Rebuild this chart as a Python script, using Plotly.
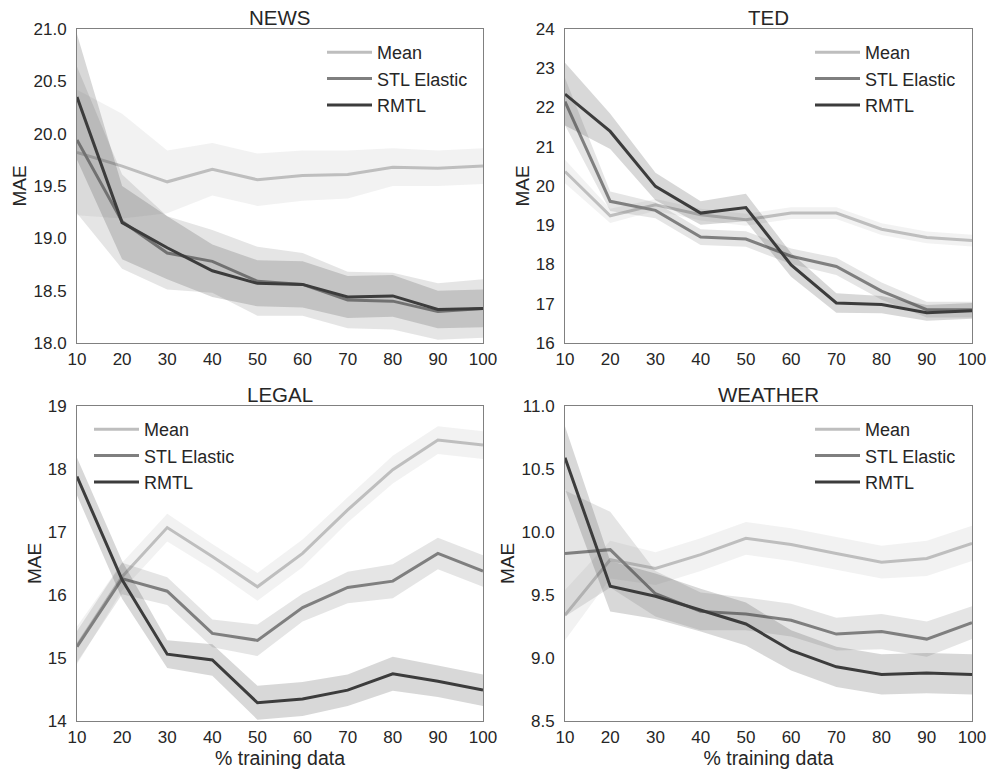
import plotly.graph_objects as go

x_pct = [10, 20, 30, 40, 50, 60, 70, 80, 90, 100]
series_names = ["Mean", "STL Elastic", "RMTL"]
panel_titles = ["NEWS", "TED", "LEGAL", "WEATHER"]

# NEWS
news_mean = [19.82, 19.69, 19.54, 19.66, 19.56, 19.60, 19.61, 19.68, 19.67, 19.69]
news_mean_err = [0.60, 0.50, 0.30, 0.25, 0.25, 0.24, 0.23, 0.18, 0.17, 0.17]
news_stl = [19.94, 19.16, 18.86, 18.78, 18.59, 18.56, 18.41, 18.40, 18.30, 18.33]
news_stl_err = [0.70, 0.45, 0.35, 0.30, 0.33, 0.30, 0.27, 0.27, 0.27, 0.28]
news_rmtl = [20.35, 19.15, 18.91, 18.69, 18.57, 18.56, 18.44, 18.45, 18.32, 18.33]
news_rmtl_err = [0.60, 0.35, 0.30, 0.25, 0.22, 0.22, 0.20, 0.20, 0.18, 0.18]

# TED
ted_mean = [20.37, 19.24, 19.52, 19.27, 19.14, 19.31, 19.31, 18.90, 18.69, 18.61]
ted_mean_err = [0.30, 0.18, 0.15, 0.15, 0.15, 0.15, 0.15, 0.15, 0.15, 0.15]
ted_stl = [22.15, 19.61, 19.38, 18.70, 18.65, 18.21, 17.95, 17.32, 16.85, 16.85]
ted_stl_err = [0.60, 0.25, 0.20, 0.20, 0.20, 0.20, 0.22, 0.22, 0.20, 0.20]
ted_rmtl = [22.34, 21.39, 19.99, 19.31, 19.45, 17.99, 17.02, 16.98, 16.77, 16.82]
ted_rmtl_err = [0.80, 0.45, 0.35, 0.30, 0.35, 0.30, 0.25, 0.22, 0.20, 0.20]

# LEGAL
legal_mean = [15.20, 16.29, 17.07, 16.61, 16.13, 16.66, 17.35, 17.99, 18.46, 18.38]
legal_mean_err = [0.30, 0.22, 0.22, 0.20, 0.22, 0.22, 0.20, 0.22, 0.22, 0.22]
legal_stl = [15.18, 16.26, 16.06, 15.39, 15.28, 15.80, 16.12, 16.22, 16.66, 16.38]
legal_stl_err = [0.25, 0.25, 0.22, 0.22, 0.25, 0.22, 0.25, 0.27, 0.25, 0.25]
legal_rmtl = [17.88, 16.24, 15.06, 14.97, 14.29, 14.35, 14.49, 14.75, 14.63, 14.49]
legal_rmtl_err = [0.30, 0.30, 0.22, 0.25, 0.27, 0.27, 0.25, 0.27, 0.25, 0.25]

# WEATHER
weather_mean = [9.34, 9.78, 9.71, 9.82, 9.95, 9.90, 9.83, 9.76, 9.79, 9.91]
weather_mean_err = [0.20, 0.15, 0.13, 0.13, 0.13, 0.13, 0.13, 0.13, 0.14, 0.14]
weather_stl = [9.83, 9.86, 9.51, 9.37, 9.35, 9.30, 9.19, 9.21, 9.15, 9.28]
weather_stl_err = [0.50, 0.30, 0.18, 0.15, 0.13, 0.13, 0.13, 0.14, 0.14, 0.13]
weather_rmtl = [10.59, 9.57, 9.49, 9.38, 9.27, 9.06, 8.93, 8.87, 8.88, 8.87]
weather_rmtl_err = [0.25, 0.20, 0.18, 0.17, 0.17, 0.16, 0.16, 0.16, 0.16, 0.16]

panels = [
    [(news_mean, news_mean_err), (news_stl, news_stl_err), (news_rmtl, news_rmtl_err)],
    [(ted_mean, ted_mean_err), (ted_stl, ted_stl_err), (ted_rmtl, ted_rmtl_err)],
    [(legal_mean, legal_mean_err), (legal_stl, legal_stl_err), (legal_rmtl, legal_rmtl_err)],
    [(weather_mean, weather_mean_err), (weather_stl, weather_stl_err), (weather_rmtl, weather_rmtl_err)],
]

y_ranges = [[18.0, 21.0], [16, 24], [14, 19], [8.5, 11.0]]
y_dticks = [0.5, 1, 1, 0.5]
y_formats = [".1f", "d", "d", ".1f"]

line_rgb = [(190, 190, 190), (127, 127, 127), (60, 60, 60)]

W, H = 987, 770
px_x = [(77, 483), (565, 972), (77, 483), (565, 972)]
px_y = [(29, 343), (29, 343), (406, 721), (406, 721)]

FONT = "Liberation Sans, Arial, sans-serif"
fig = go.Figure()

legend_names = ["legend", "legend2", "legend3", "legend4"]

for p in range(4):
    ax = "" if p == 0 else str(p + 1)
    xa, ya = "x" + ax, "y" + ax
    for s in range(3):
        vals, errs = panels[p][s]
        r, g, b = line_rgb[s]
        upper = [v + e for v, e in zip(vals, errs)]
        lower = [v - e for v, e in zip(vals, errs)]
        fig.add_trace(go.Scatter(
            x=x_pct + x_pct[::-1], y=upper + lower[::-1],
            fill="toself", fillcolor=f"rgba({r},{g},{b},0.2)",
            line=dict(width=0), mode="lines", hoverinfo="skip",
            showlegend=False, xaxis=xa, yaxis=ya,
        ))
        fig.add_trace(go.Scatter(
            x=x_pct, y=vals, mode="lines", name=series_names[s],
            line=dict(color=f"rgb({r},{g},{b})", width=3),
            xaxis=xa, yaxis=ya, legend=legend_names[p],
        ))

layout = dict(
    width=W, height=H,
    margin=dict(l=0, r=0, t=0, b=0),
    paper_bgcolor="white", plot_bgcolor="white",
    font=dict(family=FONT, size=16, color="#262626"),
    showlegend=True,
)

for p in range(4):
    ax = "" if p == 0 else str(p + 1)
    x0, x1 = px_x[p]
    y0, y1 = px_y[p]
    xdom = [x0 / W, x1 / W]
    ydom = [1 - y1 / H, 1 - y0 / H]
    layout["xaxis" + ax] = dict(
        domain=xdom, range=[10, 100], tickvals=x_pct, showgrid=False,
        zeroline=False, showline=True, linecolor="#808080", linewidth=1, mirror=True,
        ticks="", tickfont=dict(size=17, color="#262626"), anchor="y" + ax,
        automargin=False, ticklabelstandoff=1,
        title=dict(text="% training data" if p >= 2 else "", font=dict(size=19.5), standoff=0),
    )
    layout["yaxis" + ax] = dict(
        domain=ydom, range=y_ranges[p], dtick=y_dticks[p], tick0=y_ranges[p][0],
        tickformat=y_formats[p], showgrid=False, zeroline=False, showline=True,
        linecolor="#808080", linewidth=1, mirror=True, ticks="",
        tickfont=dict(size=17, color="#262626"), anchor="x" + ax,
        automargin=False, ticklabelstandoff=6,
        title=dict(text="MAE", font=dict(size=19), standoff=1),
    )

legend_px = [(322, 34), (810, 34), (89, 411), (810, 411)]
for p in range(4):
    lx_px, ly_px = legend_px[p]
    layout[legend_names[p]] = dict(
        x=lx_px / W, y=1 - ly_px / H, xanchor="left", yanchor="top",
        bgcolor="rgba(0,0,0,0)", borderwidth=0, itemwidth=45,
        font=dict(size=18, color="#262626", family=FONT),
        tracegroupgap=4,
    )

annotations = []
for p in range(4):
    x0, x1 = px_x[p]
    y0, y1 = px_y[p]
    annotations.append(dict(
        text=panel_titles[p], x=(x0 + x1) / 2 / W, y=1 - (y0 + 2) / H,
        xref="paper", yref="paper", xanchor="center", yanchor="bottom",
        showarrow=False, font=dict(size=20.5, color="#262626", family=FONT),
    ))
layout["annotations"] = annotations

fig.update_layout(**layout)
fig.write_html(
    "out.html",
    config={"displayModeBar": False},
    post_script="document.body.style.margin='0';document.body.style.overflow='hidden';",
)
